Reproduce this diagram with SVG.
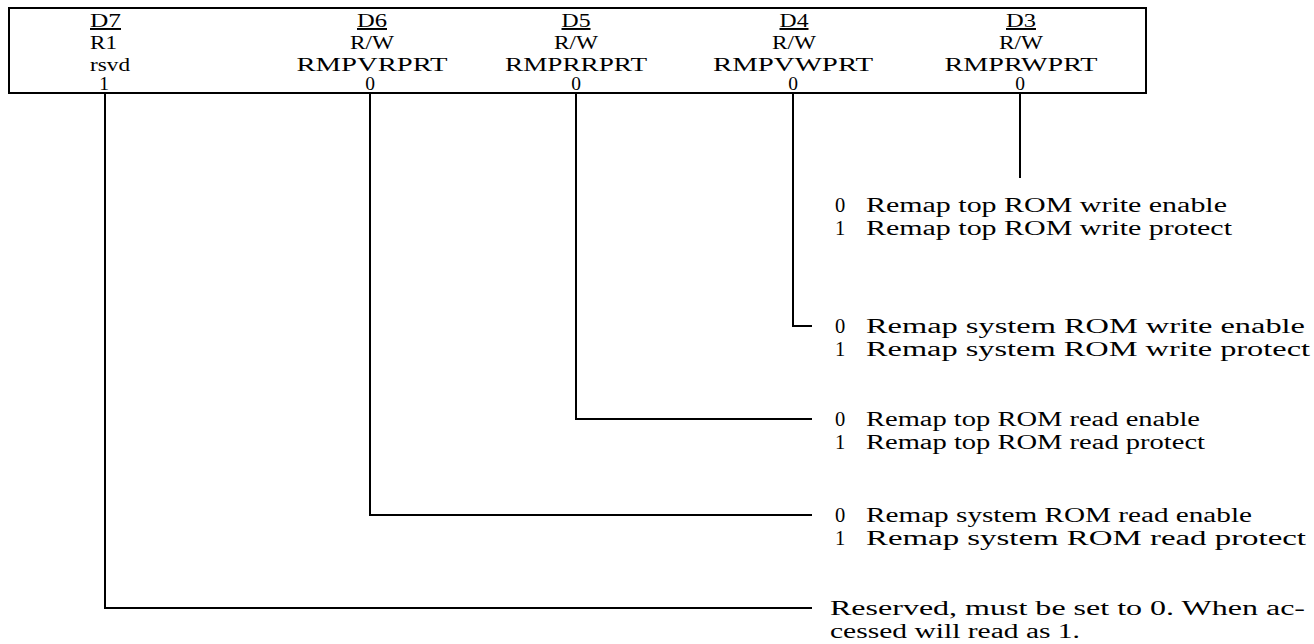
<svg xmlns="http://www.w3.org/2000/svg" width="1314" height="644" viewBox="0 0 1314 644">
<style>
text{font-family:"Liberation Serif","Times New Roman",serif;font-size:20.5px;fill:#000}
.h{font-size:19.5px}
.m{text-anchor:middle}
.u{text-decoration:underline}
.ln{fill:none;stroke:#000;stroke-width:2}
</style>
<rect x="0" y="0" width="1314" height="644" fill="#fff"/>
<g id="register">
<rect class="ln" x="9" y="8" width="1137" height="85"/>
</g>
<g id="d7">
<text class="h u" x="90" y="27" textLength="31" lengthAdjust="spacingAndGlyphs">D7</text>
<text class="h" x="90" y="49" textLength="27" lengthAdjust="spacingAndGlyphs">R1</text>
<text class="h" x="90" y="71" textLength="40" lengthAdjust="spacingAndGlyphs">rsvd</text>
<text class="h m" x="104" y="90">1</text>
</g>
<g id="d6">
<text class="h u m" x="372" y="27" textLength="30" lengthAdjust="spacingAndGlyphs">D6</text>
<text class="h m" x="372" y="49" textLength="44" lengthAdjust="spacingAndGlyphs">R/W</text>
<text class="h m" x="372" y="71" textLength="151" lengthAdjust="spacingAndGlyphs">RMPVRPRT</text>
<text class="h m" x="370" y="90">0</text>
</g>
<g id="d5">
<text class="h u m" x="576" y="27" textLength="29" lengthAdjust="spacingAndGlyphs">D5</text>
<text class="h m" x="576" y="49" textLength="44" lengthAdjust="spacingAndGlyphs">R/W</text>
<text class="h m" x="576" y="71" textLength="142" lengthAdjust="spacingAndGlyphs">RMPRRPRT</text>
<text class="h m" x="576" y="90">0</text>
</g>
<g id="d4">
<text class="h u m" x="794" y="27" textLength="29" lengthAdjust="spacingAndGlyphs">D4</text>
<text class="h m" x="794" y="49" textLength="44" lengthAdjust="spacingAndGlyphs">R/W</text>
<text class="h m" x="793" y="71" textLength="160" lengthAdjust="spacingAndGlyphs">RMPVWPRT</text>
<text class="h m" x="793" y="90">0</text>
</g>
<g id="d3">
<text class="h u m" x="1021" y="27" textLength="30" lengthAdjust="spacingAndGlyphs">D3</text>
<text class="h m" x="1021" y="49" textLength="44" lengthAdjust="spacingAndGlyphs">R/W</text>
<text class="h m" x="1021" y="71" textLength="153" lengthAdjust="spacingAndGlyphs">RMPRWPRT</text>
<text class="h m" x="1020" y="90">0</text>
</g>
<g id="connectors">
<polyline class="ln" points="1020,93 1020,178"/>
<polyline class="ln" points="793,93 793,326 812,326"/>
<polyline class="ln" points="576,93 576,419 812,419"/>
<polyline class="ln" points="370,93 370,515 812,515"/>
<polyline class="ln" points="105,93 105,608 812,608"/>
</g>
<g id="desc-d3">
<text class="m" x="840" y="212">0</text>
<text x="866" y="212" textLength="361" lengthAdjust="spacingAndGlyphs">Remap top ROM write enable</text>
<text class="m" x="840" y="235">1</text>
<text x="866" y="235" textLength="366" lengthAdjust="spacingAndGlyphs">Remap top ROM write protect</text>
</g>
<g id="desc-d4">
<text class="m" x="840" y="333">0</text>
<text x="866" y="333" textLength="439" lengthAdjust="spacingAndGlyphs">Remap system ROM write enable</text>
<text class="m" x="840" y="356">1</text>
<text x="866" y="356" textLength="444" lengthAdjust="spacingAndGlyphs">Remap system ROM write protect</text>
</g>
<g id="desc-d5">
<text class="m" x="840" y="426">0</text>
<text x="866" y="426" textLength="334" lengthAdjust="spacingAndGlyphs">Remap top ROM read enable</text>
<text class="m" x="840" y="449">1</text>
<text x="866" y="449" textLength="339" lengthAdjust="spacingAndGlyphs">Remap top ROM read protect</text>
</g>
<g id="desc-d6">
<text class="m" x="840" y="522">0</text>
<text x="866" y="522" textLength="386" lengthAdjust="spacingAndGlyphs">Remap system ROM read enable</text>
<text class="m" x="840" y="545">1</text>
<text x="866" y="545" textLength="440" lengthAdjust="spacingAndGlyphs">Remap system ROM read protect</text>
</g>
<g id="desc-d7">
<text x="830" y="615" textLength="475" lengthAdjust="spacingAndGlyphs">Reserved, must be set to 0. When ac-</text>
<text x="830" y="638" textLength="250" lengthAdjust="spacingAndGlyphs">cessed will read as 1.</text>
</g>
</svg>
